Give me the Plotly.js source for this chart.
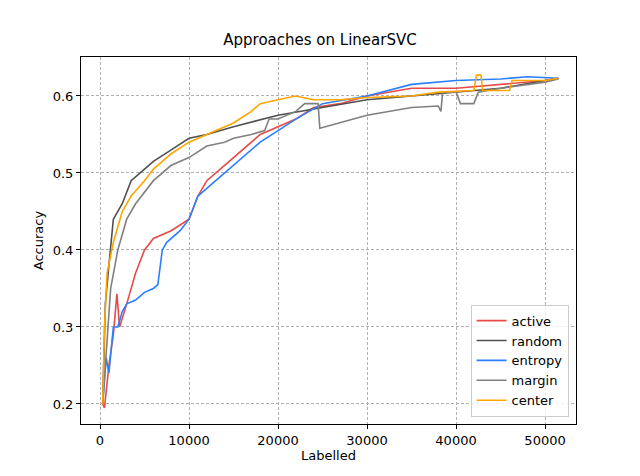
<!DOCTYPE html>
<html>
<head>
<script src="https://cdn.plot.ly/plotly-3.0.1.min.js"></script>
<style>body{margin:0;background:#fff}</style>
</head>
<body>
<div id="plot" style="width:640px;height:476px"></div>
<script>
const activeX = [300, 500, 1000, 1500, 1900, 2200, 3000, 4000, 5000, 6000, 8000, 10000, 11000, 12000, 14000, 16000, 18000, 20000, 22000, 24000, 27000, 30000, 35000, 40000, 45000, 50000, 51500];
const activeY = [0.2, 0.195, 0.25, 0.29, 0.343, 0.30, 0.33, 0.37, 0.40, 0.415, 0.425, 0.44, 0.47, 0.49, 0.51, 0.53, 0.55, 0.56, 0.57, 0.585, 0.59, 0.60, 0.61, 0.61, 0.615, 0.62, 0.623];

const randomX = [300, 600, 1000, 1500, 2500, 3500, 5000, 6000, 8000, 10000, 12000, 15000, 20000, 25000, 30000, 35000, 40000, 45000, 50000, 51500];
const randomY = [0.2, 0.33, 0.38, 0.44, 0.46, 0.49, 0.505, 0.515, 0.53, 0.545, 0.55, 0.56, 0.575, 0.585, 0.595, 0.60, 0.605, 0.61, 0.62, 0.623];

const entropyX = [300, 700, 1000, 1500, 2000, 2500, 3000, 4000, 5000, 6000, 6500, 7000, 7500, 9000, 10000, 11000, 12000, 14000, 16000, 18000, 20000, 22000, 25000, 30000, 35000, 40000, 45000, 48000, 51500];
const entropyY = [0.2, 0.26, 0.24, 0.30, 0.30, 0.32, 0.33, 0.335, 0.345, 0.35, 0.355, 0.40, 0.41, 0.425, 0.44, 0.47, 0.48, 0.50, 0.52, 0.54, 0.555, 0.57, 0.59, 0.60, 0.615, 0.62, 0.622, 0.625, 0.623];

const marginX = [300, 800, 1200, 2000, 3000, 4000, 6000, 8000, 10000, 12000, 14000, 15000, 17000, 18500, 19000, 20000, 22000, 23000, 24500, 24700, 27000, 28500, 30000, 35000, 38000, 38300, 38500, 40000, 40500, 42000, 42500, 45000, 50000, 51500];
const marginY = [0.2, 0.28, 0.35, 0.40, 0.44, 0.46, 0.49, 0.51, 0.52, 0.535, 0.54, 0.545, 0.55, 0.555, 0.57, 0.57, 0.58, 0.59, 0.59, 0.558, 0.565, 0.57, 0.575, 0.585, 0.587, 0.58, 0.605, 0.605, 0.59, 0.59, 0.605, 0.61, 0.618, 0.622];

const centerX = [300, 500, 800, 1500, 2500, 3500, 5000, 6000, 8000, 10000, 12000, 15000, 17000, 18000, 20000, 22000, 24000, 27000, 30000, 35000, 38000, 42000, 42300, 42800, 43000, 46000, 46300, 50000, 51500];
const centerY = [0.2, 0.3, 0.37, 0.41, 0.45, 0.47, 0.49, 0.505, 0.525, 0.54, 0.55, 0.565, 0.58, 0.59, 0.595, 0.60, 0.595, 0.595, 0.598, 0.60, 0.605, 0.607, 0.627, 0.627, 0.607, 0.607, 0.62, 0.62, 0.623];

const series = [
    ['active', activeX, activeY, '#e84a4a'],
    ['random', randomX, randomY, '#505050'],
    ['entropy', entropyX, entropyY, '#2a7fff'],
    ['margin', marginX, marginY, '#808080'],
    ['center', centerX, centerY, '#ffa500']
];

const font = { family: 'DejaVu Sans', size: 13, color: '#000' };
const axis = {
    showline: true, mirror: true, linecolor: '#000', linewidth: 1,
    ticks: 'outside', ticklen: 4, tickcolor: '#000',
    gridcolor: '#b0b0b0', griddash: '3px,2px', zeroline: false, tickfont: font
};

Plotly.newPlot('plot', series.map(s => ({
    x: s[1], y: s[2], name: s[0], mode: 'lines', type: 'scatter',
    line: { color: s[3], width: 1.6 }
})), {
    width: 640, height: 476,
    margin: { l: 81, r: 64, t: 57, b: 52 },
    paper_bgcolor: '#fff', plot_bgcolor: '#fff',
    title: { text: 'Approaches on LinearSVC', font: { family: 'DejaVu Sans', size: 15, color: '#000' }, x: 0.5, y: 0.905, yanchor: 'bottom' },
    xaxis: Object.assign({}, axis, { range: [-2135, 53480], tickvals: [0, 10000, 20000, 30000, 40000, 50000], tickformat: 'd',
        title: { text: 'Labelled', font: font, standoff: 2 } }),
    yaxis: Object.assign({}, axis, { range: [0.174, 0.6506], tickvals: [0.2, 0.3, 0.4, 0.5, 0.6], tickformat: '.1f',
        title: { text: 'Accuracy', font: font, standoff: 6 } }),
    legend: { x: 0.985, y: 0.02, xanchor: 'right', yanchor: 'bottom', bordercolor: '#ccc', borderwidth: 1,
        bgcolor: 'rgba(255,255,255,0.8)', font: { family: 'DejaVu Sans', size: 13, color: '#000' } },
    showlegend: true
}, { displayModeBar: false });
</script>
</body>
</html>
